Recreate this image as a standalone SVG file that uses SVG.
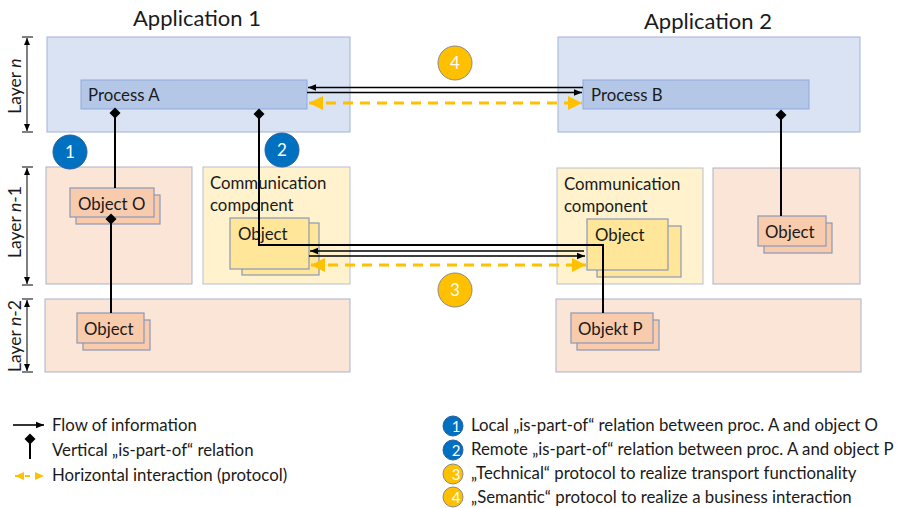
<svg xmlns="http://www.w3.org/2000/svg" width="900" height="508" viewBox="0 0 900 508">
<defs>
  <style>
    text { font-family: "Lato", "Open Sans", "Liberation Sans", sans-serif; fill: #1a1a1a; }
    .title { font-size: 22px; }
    .lbl { font-size: 16.8px; }
    .leg { font-size: 16.8px; }
    .layer { fill: #dae3f3; stroke: #9fb4d8; stroke-width: 1; }
    .proc { fill: #b4c7e7; stroke: #8faadc; stroke-width: 1; }
    .peach { fill: #fbe5d6; stroke: #aab3c9; stroke-width: 1; }
    .comm { fill: #fff2cc; stroke: #b8bfd0; stroke-width: 1; }
    .obj { fill: #f8cbad; stroke: #8a98b8; stroke-width: 1.2; }
    .yobj { fill: #ffe699; stroke: #8a98b8; stroke-width: 1.2; }
    .part { fill: none; stroke: #000; stroke-width: 2; }
    .flow { fill: none; stroke: #000; stroke-width: 1.6; }
    .proto { fill: none; stroke: #ffc000; stroke-width: 3; stroke-dasharray: 10 7; }
    .dim { fill: none; stroke: #000; stroke-width: 1; }
    .bnum { fill: #0070c0; stroke: #2e5fa0; stroke-width: 1; }
    .ynum { fill: #ffc000; stroke: #8a8a8a; stroke-width: 1; }
    .num { fill: #fff; font-size: 17px; text-anchor: middle; }
    .numS { fill: #fff; font-size: 15px; text-anchor: middle; }
    .vlbl { font-size: 17.5px; text-anchor: middle; }
  </style>
  <marker id="arr" markerUnits="userSpaceOnUse" markerWidth="10" markerHeight="8" refX="8" refY="4" orient="auto-start-reverse">
    <path d="M0,0.8 L8,4 L0,7.2 Z" fill="#000"/>
  </marker>
  <marker id="yarr" markerUnits="userSpaceOnUse" markerWidth="16" markerHeight="16" refX="14" refY="8" orient="auto-start-reverse">
    <path d="M0,1 L14,8 L0,15 Z" fill="#ffc000"/>
  </marker>
  <marker id="yarrS" markerUnits="userSpaceOnUse" markerWidth="10" markerHeight="10" refX="9" refY="5" orient="auto-start-reverse">
    <path d="M0,1 L9,5 L0,9 Z" fill="#ffc000"/>
  </marker>
  <marker id="dim" markerUnits="userSpaceOnUse" markerWidth="8" markerHeight="8" refX="7" refY="4" orient="auto-start-reverse">
    <path d="M0,1 L7,4 L0,7 Z" fill="#000"/>
  </marker>
  <marker id="dia" markerUnits="userSpaceOnUse" markerWidth="12" markerHeight="12" refX="6" refY="6" orient="0">
    <path d="M6,0.5 L11.5,6 L6,11.5 L0.5,6 Z" fill="#000"/>
  </marker>
</defs>

<!-- application titles -->
<text class="title" x="197" y="26" text-anchor="middle">Application 1</text>
<text class="title" x="708" y="29" text-anchor="middle">Application 2</text>

<!-- layer dimension marks -->
<g id="layer-marks">
  <line class="dim" x1="22" y1="37" x2="33" y2="37"/>
  <line class="dim" x1="22" y1="132" x2="33" y2="132"/>
  <line class="dim" x1="27" y1="38" x2="27" y2="131" marker-start="url(#dim)" marker-end="url(#dim)"/>
  <line class="dim" x1="22" y1="167" x2="33" y2="167"/>
  <line class="dim" x1="22" y1="285" x2="33" y2="285"/>
  <line class="dim" x1="27" y1="168" x2="27" y2="284" marker-start="url(#dim)" marker-end="url(#dim)"/>
  <line class="dim" x1="22" y1="299" x2="33" y2="299"/>
  <line class="dim" x1="22" y1="372" x2="33" y2="372"/>
  <line class="dim" x1="27" y1="300" x2="27" y2="371" marker-start="url(#dim)" marker-end="url(#dim)"/>
  <text class="vlbl" transform="translate(21,86) rotate(-90)">Layer <tspan font-style="italic">n</tspan></text>
  <text class="vlbl" transform="translate(21,222) rotate(-90)">Layer <tspan font-style="italic">n</tspan>-1</text>
  <text class="vlbl" transform="translate(21,336) rotate(-90)">Layer <tspan font-style="italic">n</tspan>-2</text>
</g>

<!-- layer areas -->
<g id="app1-layer-n"><rect class="layer" x="47" y="37" width="303" height="95"/></g>
<g id="app2-layer-n"><rect class="layer" x="558" y="37" width="302" height="95"/></g>
<g id="app1-layer-n1-local"><rect class="peach" x="46" y="167" width="146" height="117"/></g>
<g id="app1-comm"><rect class="comm" x="203" y="167" width="147" height="117"/>
  <text class="lbl" x="210" y="189">Communication</text>
  <text class="lbl" x="210" y="211">component</text>
</g>
<g id="app2-comm"><rect class="comm" x="557" y="168" width="146" height="116"/>
  <text class="lbl" x="564" y="190">Communication</text>
  <text class="lbl" x="564" y="212">component</text>
</g>
<g id="app2-layer-n1-local"><rect class="peach" x="713" y="168" width="147" height="116"/></g>
<g id="app1-layer-n2"><rect class="peach" x="45" y="299" width="305" height="73"/></g>
<g id="app2-layer-n2"><rect class="peach" x="556" y="299" width="305" height="73"/></g>

<!-- processes -->
<g id="process-a"><rect class="proc" x="81" y="80" width="226" height="29"/><text class="lbl" x="88" y="101">Process A</text></g>
<g id="process-b"><rect class="proc" x="583" y="80" width="226" height="29"/><text class="lbl" x="591" y="101">Process B</text></g>

<!-- objects -->
<g id="object-o">
  <rect class="obj" x="76" y="195" width="84" height="29"/>
  <rect class="obj" x="70" y="188" width="84" height="29"/>
  <text class="lbl" x="78" y="210">Object O</text>
</g>
<g id="object-a-n2">
  <rect class="obj" x="83" y="320" width="67" height="30"/>
  <rect class="obj" x="77" y="313" width="67" height="30"/>
  <text class="lbl" x="84" y="335">Object</text>
</g>
<g id="comm-object-1">
  <rect class="yobj" x="242" y="223" width="77" height="52"/>
  <rect class="yobj" x="230" y="218" width="79" height="51"/>
  <text class="lbl" x="238" y="240">Object</text>
</g>
<g id="comm-object-2">
  <rect class="yobj" x="597" y="226" width="84" height="51"/>
  <rect class="yobj" x="587" y="219" width="81" height="51"/>
  <text class="lbl" x="595" y="241">Object</text>
</g>
<g id="object-b">
  <rect class="obj" x="764" y="223" width="68" height="30"/>
  <rect class="obj" x="758" y="216" width="68" height="30"/>
  <text class="lbl" x="765" y="238">Object</text>
</g>
<g id="object-p">
  <rect class="obj" x="577" y="320" width="82" height="30"/>
  <rect class="obj" x="571" y="313" width="82" height="30"/>
  <text class="lbl" x="578" y="335">Objekt P</text>
</g>

<!-- connectors -->
<g id="connectors">
  <!-- vertical is-part-of relations -->
  <polyline class="part" points="115,113 115,188" marker-start="url(#dia)"/>
  <polyline class="part" points="111,219 111,313" marker-start="url(#dia)"/>
  <polyline class="part" points="259,114 259,245 603,245 603,313" stroke-linejoin="miter" marker-start="url(#dia)"/>
  <polyline class="part" points="781,115 781,216" marker-start="url(#dia)"/>
  <!-- flow of information, layer n -->
  <line class="flow" x1="583" y1="87.5" x2="308" y2="87.5" marker-end="url(#arr)"/>
  <line class="flow" x1="307" y1="92.5" x2="582" y2="92.5" marker-end="url(#arr)"/>
  <!-- flow of information, communication -->
  <line class="flow" x1="584" y1="251" x2="310" y2="251" marker-end="url(#arr)"/>
  <line class="flow" x1="309" y1="256" x2="585" y2="256" marker-end="url(#arr)"/>
  <!-- protocols -->
  <line class="proto" x1="309" y1="103" x2="582" y2="103" marker-start="url(#yarr)" marker-end="url(#yarr)"/>
  <line class="proto" x1="311" y1="265" x2="586" y2="265" marker-start="url(#yarr)" marker-end="url(#yarr)"/>
</g>

<!-- numbered markers -->
<g id="badge-1"><circle class="bnum" cx="70" cy="152" r="17"/><text class="num" x="70" y="158">1</text></g>
<g id="badge-2"><circle class="bnum" cx="282" cy="150" r="17"/><text class="num" x="282" y="156">2</text></g>
<g id="badge-4"><circle class="ynum" cx="455" cy="63" r="17"/><text class="num" x="455" y="69">4</text></g>
<g id="badge-3"><circle class="ynum" cx="455" cy="290" r="17"/><text class="num" x="455" y="296">3</text></g>

<!-- legend -->
<g id="legend">
  <line class="flow" x1="13" y1="425" x2="44" y2="425" marker-end="url(#arr)"/>
  <text class="leg" x="52" y="431">Flow of information</text>
  <polyline class="part" points="30,439 30,459" marker-start="url(#dia)"/>
  <text class="leg" x="52" y="456">Vertical „is-part-of“ relation</text>
  <line x1="15" y1="476" x2="44" y2="476" stroke="#ffc000" stroke-width="2" stroke-dasharray="5 5" marker-start="url(#yarrS)" marker-end="url(#yarrS)"/>
  <text class="leg" x="52" y="481">Horizontal interaction (protocol)</text>

  <circle class="bnum" cx="453" cy="426" r="10"/><text class="numS" x="456" y="432">1</text>
  <text class="leg" x="471" y="431">Local „is-part-of“ relation between proc. A and object O</text>
  <circle class="bnum" cx="453" cy="450" r="10"/><text class="numS" x="456" y="456">2</text>
  <text class="leg" x="471" y="455">Remote „is-part-of“ relation between proc. A and object P</text>
  <circle class="ynum" cx="453" cy="474" r="10"/><text class="numS" x="456" y="480">3</text>
  <text class="leg" x="471" y="479">„Technical“ protocol to realize transport functionality</text>
  <circle class="ynum" cx="453" cy="497" r="10"/><text class="numS" x="456" y="503">4</text>
  <text class="leg" x="471" y="503">„Semantic“ protocol to realize a business interaction</text>
</g>
</svg>
